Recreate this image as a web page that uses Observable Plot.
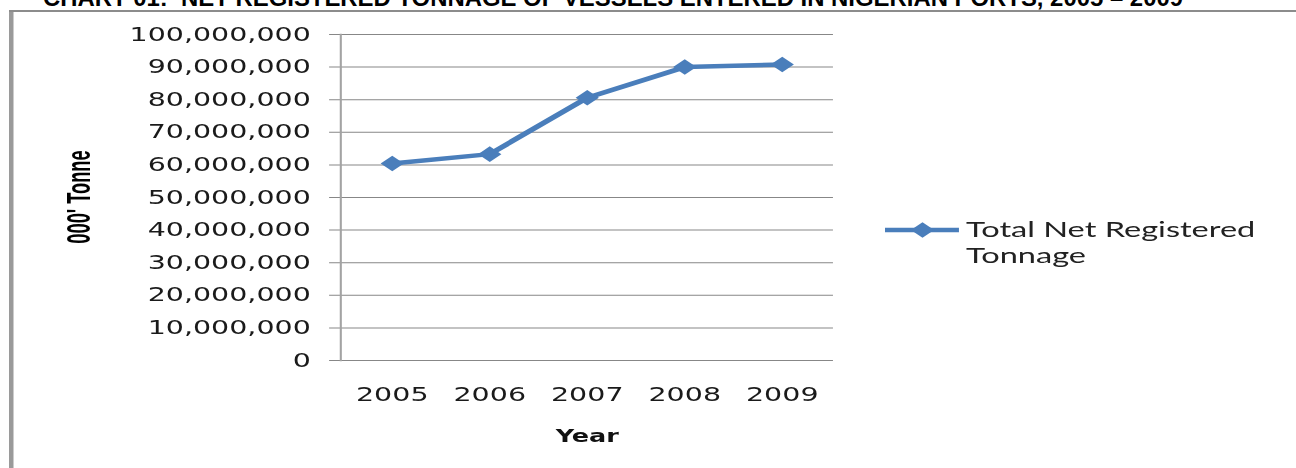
<!DOCTYPE html>
<html>
<head>
<meta charset="utf-8">
<script src="https://cdn.jsdelivr.net/npm/d3@7"></script>
<script src="https://cdn.jsdelivr.net/npm/@observablehq/plot@0.6"></script>
<style>
  html, body { margin: 0; padding: 0; background: #fff; overflow: hidden; }
  #page { position: relative; width: 1296px; height: 468px; overflow: hidden; background: #fff; }
  #title { position: absolute; left: 0; top: 0; }
  #stage { position: absolute; left: 0; top: 0; width: 864px; height: 468px; transform: scaleX(1.5); transform-origin: 0 0; }
  #frameL { position: absolute; left: 6.3px; top: 10px; width: 2.5px; height: 470px; background: #9a9a9a; }
  #frameT { position: absolute; left: 6.3px; top: 10px; width: 900px; height: 2px; background: #8c8c8c; }
  #chart { position: absolute; left: 0; top: 0; }
  #ytitle { position: absolute; left: 53.3px; top: 197px; transform: translate(-50%, -50%) rotate(-90deg) scaleX(0.83);
            font: bold 22px "Liberation Sans", Arial, sans-serif; white-space: nowrap; color: #000; line-height: 1; }
  #legend { position: absolute; left: 0; top: 0; }
</style>
</head>
<body>
<div id="page">
  <svg id="title" width="1296" height="30"></svg>
  <div id="stage">
    <div id="frameL"></div>
    <div id="frameT"></div>
    <div id="chart"></div>
    <div id="ytitle"></div>
    <svg id="legend" width="864" height="468"></svg>
  </div>
</div>
<script>
// ---- data ----
const titleText = "CHART 01:\u00a0\u00a0NET REGISTERED TONNAGE OF VESSELS ENTERED IN NIGERIAN PORTS, 2005 \u2013 2009";
const years = ["2005", "2006", "2007", "2008", "2009"];
const tonnage = [60400000, 63300000, 80600000, 90000000, 90800000];
const yTicks = [0, 10000000, 20000000, 30000000, 40000000, 50000000, 60000000, 70000000, 80000000, 90000000, 100000000];
const seriesName = ["Total Net Registered", "Tonnage"];
const xLabel = "Year";
const yLabel = "000' Tonne";

const blue = "#4a7ebb";
const data = years.map((y, i) => ({ year: y, value: tonnage[i] }));

// title (partially cut off at top, as in the reference)
d3.select("#title").append("text")
  .attr("x", 43).attr("y", 6)
  .attr("textLength", 1140).attr("lengthAdjust", "spacingAndGlyphs")
  .attr("font-family", "'Liberation Sans', Arial, sans-serif")
  .attr("font-weight", "bold").attr("font-size", 24).attr("fill", "#000")
  .text(titleText);

document.getElementById("ytitle").textContent = yLabel;

const chart = Plot.plot({
  width: 864,
  height: 468,
  marginTop: 34,
  marginBottom: 108,
  marginLeft: 226.7,
  marginRight: 308.7,
  style: { fontFamily: "'DejaVu Sans', Verdana, sans-serif", fontSize: "19px", color: "#1a1a1a", background: "transparent", overflow: "visible" },
  x: { type: "point", domain: years, padding: 0.5 },
  y: { domain: [0, 100000000] },
  marks: [
    Plot.gridY(yTicks, { stroke: "#878787", strokeOpacity: 1, strokeWidth: 1, insetLeft: -7.3 }),
    Plot.frame({ anchor: "left", stroke: "#a3a3a3", strokeWidth: 1.4 }),
    Plot.axisY({ ticks: yTicks, tickSize: 0, tickPadding: 20, tickFormat: d3.format(","), label: null, fontSize: 19 }),
    Plot.axisX({ tickSize: 0, tickPadding: 27.5, label: null, fontSize: 19 }),
    Plot.text([xLabel], { text: d => d, frameAnchor: "bottom", dy: 81.5, fontWeight: "bold", fontSize: 17, fill: "#111" }),
    Plot.line(data, { x: "year", y: "value", stroke: blue, strokeWidth: 4.5, strokeLinejoin: "round" }),
    Plot.dot(data, { x: "year", y: "value", symbol: "diamond2", r: 7, fill: blue, stroke: "none" })
  ]
});
document.getElementById("chart").appendChild(chart);

// legend
const lg = d3.select("#legend");
lg.append("line").attr("x1", 590).attr("x2", 639.3).attr("y1", 230).attr("y2", 230)
  .attr("stroke", blue).attr("stroke-width", 4.5);
lg.append("path").attr("transform", "translate(615,230)")
  .attr("d", d3.symbol(d3.symbolDiamond2, Math.PI * 49)()).attr("fill", blue);
const lt = lg.append("text").attr("x", 644).attr("y", 236.7)
  .attr("font-family", "Lato, 'Open Sans', sans-serif").attr("font-size", 21.7).attr("fill", "#222");
seriesName.forEach((s, i) => lt.append("tspan").attr("x", 644).attr("dy", i === 0 ? 0 : 26.3).text(s));
</script>
</body>
</html>
